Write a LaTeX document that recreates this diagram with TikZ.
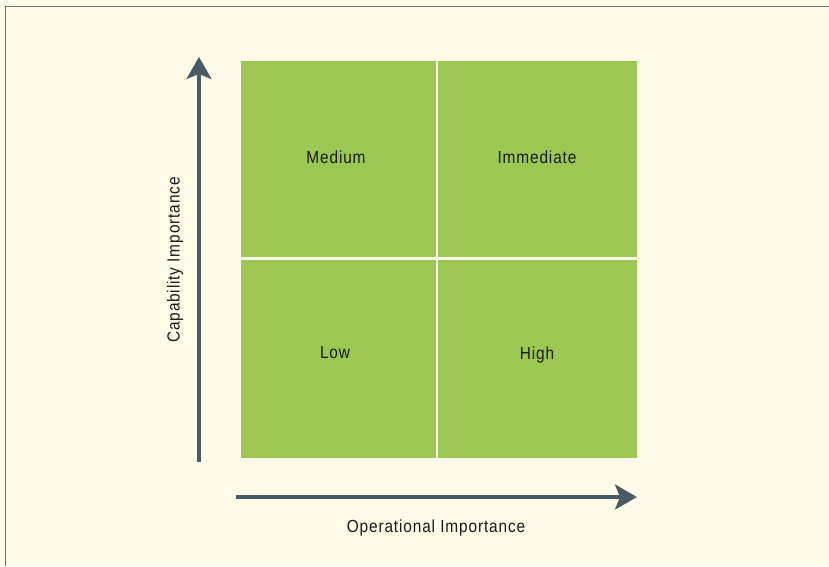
\documentclass[tikz,border=0pt]{standalone}
\usepackage{fontspec}
\setmainfont[FakeStretch=0.88, LetterSpace=5]{Liberation Sans}
\usetikzlibrary{arrows.meta}
\definecolor{bg}{HTML}{FFFBE9}
\definecolor{cell}{HTML}{9DC753}
\definecolor{axis}{HTML}{4A5B66}
\definecolor{frame}{HTML}{707070}
\definecolor{txt}{HTML}{1A1A1A}
\tikzset{
  cellbox/.style={fill=cell, draw=none, inner sep=0pt, outer sep=0pt},
  celltext/.style={text=txt, font=\fontsize{17.5}{20}\selectfont},
  axisarrow/.style={draw=axis, line width=3.5pt, -{Stealth[length=22pt, width=25pt, inset=5pt]}},
  axislabel/.style={text=txt, font=\fontsize{17.5}{20}\selectfont}
}
\begin{document}
\begin{tikzpicture}[x=1pt, y=-1pt]
\useasboundingbox (0,0) rectangle (829,566);
\fill[bg] (0,0) rectangle (829,566);
\draw[frame, line width=1.3pt] (5.5,566) -- (5.5,6.5) -- (829,6.5);
% cells
\node[cellbox, minimum width=195pt, minimum height=196pt, anchor=north west] (mq) at (241,61) {};
\node[cellbox, minimum width=199pt, minimum height=196pt, anchor=north west] (iq) at (438,61) {};
\node[cellbox, minimum width=195pt, minimum height=198pt, anchor=north west] (lq) at (241,259.5) {};
\node[cellbox, minimum width=199pt, minimum height=198pt, anchor=north west] (hq) at (438,259.5) {};
\node[celltext] (mt) at (336,157) {Medium};
\node[celltext] (it) at (537,157) {Immediate};
\node[celltext] (lt) at (335,353) {Low};
\node[celltext] (ht) at (537,355) {High};
% axes
\coordinate (ys) at (199,462);
\coordinate (ye) at (199,57);
\coordinate (xs) at (236,497);
\coordinate (xe) at (637,497);
\draw[axisarrow] (ys) -- (ye);
\draw[axisarrow] (xs) -- (xe);
\node[axislabel, rotate=90] (yl) at (175,260) {Capability Importance};
\node[axislabel] (xl) at (436,528) {Operational Importance};
\end{tikzpicture}
\end{document}
